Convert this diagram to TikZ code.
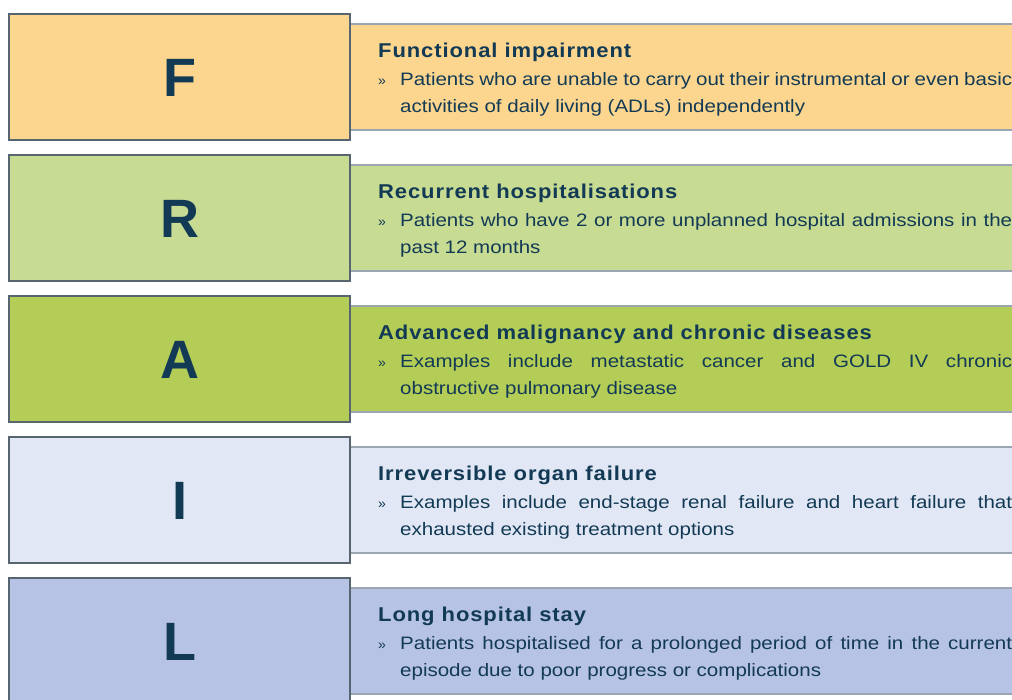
\documentclass[tikz,border=0pt]{standalone}
\usepackage{fontspec}
\setmainfont{Liberation Sans}
\usetikzlibrary{calc}

\definecolor{frailF}{HTML}{FCD68E}
\definecolor{frailR}{HTML}{C8DB93}
\definecolor{frailA}{HTML}{B4CD56}
\definecolor{frailI}{HTML}{E2E7F5}
\definecolor{frailL}{HTML}{B7C3E4}
\definecolor{inktext}{HTML}{123A55}
\definecolor{keyedge}{HTML}{56656F}
\definecolor{infoedge}{HTML}{9AA6B2}

\tikzset{
  letterbox/.style={inktext, inner sep=0pt, font=\fontsize{54}{60}\selectfont\bfseries},
  heading/.style={inktext, inner sep=0pt, anchor=base west,
    font=\fontsize{20}{24}\selectfont\bfseries\addfontfeatures{FakeStretch=1.1,LetterSpace=4.5}},
  bulletmark/.style={inktext, inner sep=0pt, anchor=base west, font=\fontsize{14}{16}\selectfont},
  bodyline/.style={inktext, inner sep=0pt, anchor=base west,
    font=\fontsize{18}{21}\selectfont\addfontfeatures{FakeStretch=1.14}}
}

% one row: top y, name, letter, colour, heading, first line, second line
\newcommand{\frailrow}[7]{%
  \fill[#4] (351,#1+10) rectangle (1030,#1+116);
  \draw[infoedge, line width=1.4pt] (351,#1+10) -- (1030,#1+10) (351,#1+116) -- (1030,#1+116);
  \draw[keyedge, line width=1.5pt, fill=#4] (9,#1) rectangle (350,#1+126);
  \node[letterbox] (#2) at (179.5,#1+63.5) {#3};
  \node[heading] (#2-title) at (378,#1+43) {#5};
  \node[bulletmark] (#2-mark) at (378,#1+71) {»};
  \node[bodyline] (#2-line1) at (400,#1+71) {\makebox[612pt][s]{#6}};
  \node[bodyline] (#2-line2) at (400,#1+98) {#7};
}

\begin{document}
\begin{tikzpicture}[x=1pt, y=-1pt]
  \useasboundingbox (0,0) rectangle (1012,699);

  %%%%% ROWS %%%%%
  \frailrow{14}{func}{F}{frailF}{Functional impairment}
    {Patients who are unable to carry out their instrumental or even basic}
    {activities of daily living (ADLs) independently}
  \frailrow{155}{recur}{R}{frailR}{Recurrent hospitalisations}
    {Patients who have 2 or more unplanned hospital admissions in the}
    {past 12 months}
  \frailrow{296}{adv}{A}{frailA}{Advanced malignancy and chronic diseases}
    {Examples include metastatic cancer and GOLD IV chronic}
    {obstructive pulmonary disease}
  \frailrow{437}{irrev}{I}{frailI}{Irreversible organ failure}
    {Examples include end-stage renal failure and heart failure that}
    {exhausted existing treatment options}
  \frailrow{578}{long}{L}{frailL}{Long hospital stay}
    {Patients hospitalised for a prolonged period of time in the current}
    {episode due to poor progress or complications}
\end{tikzpicture}
\end{document}
